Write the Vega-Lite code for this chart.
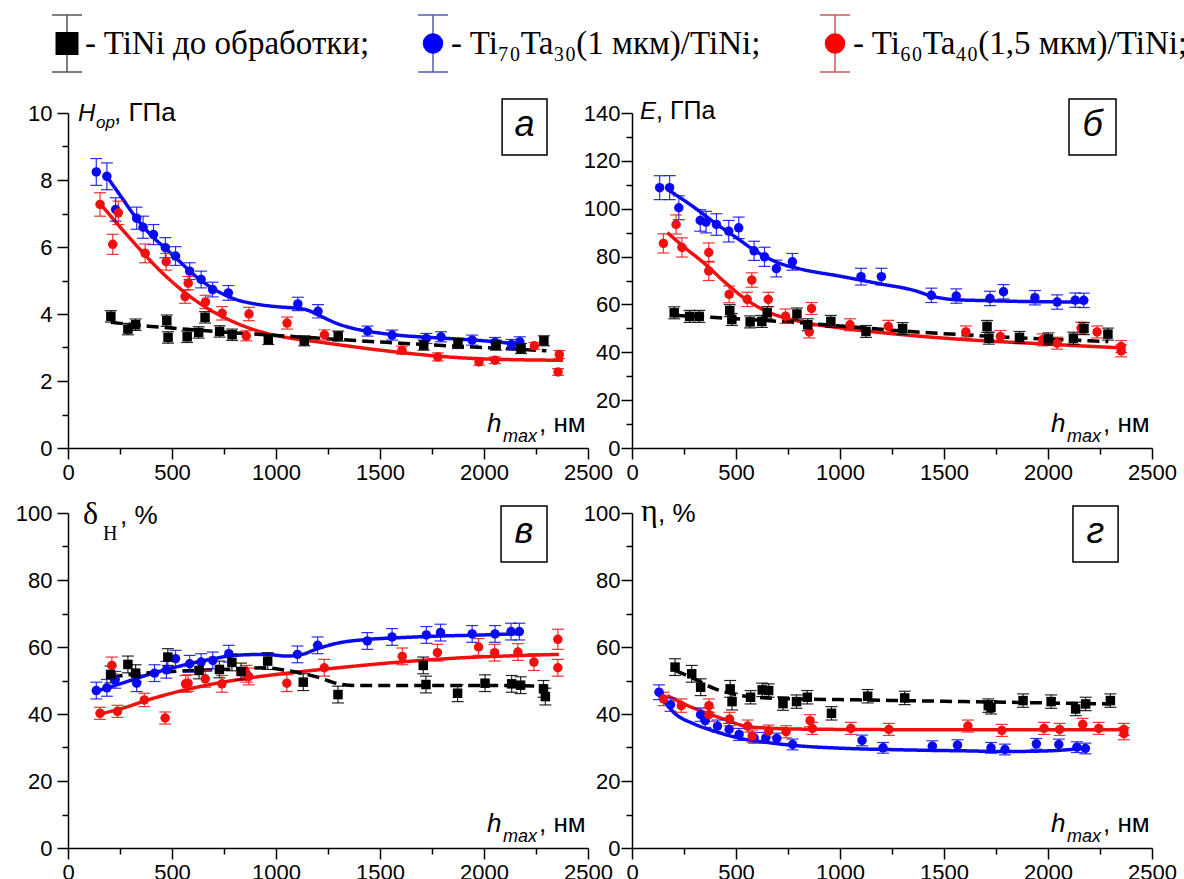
{
"$schema":"https://vega.github.io/schema/vega-lite/v6.json",
"autosize":{"type":"pad"},
"padding":{"left":15,"top":12,"right":0,"bottom":0},
"background":"white",
"datasets":{
"pts":[
{"p":"a","s":"b","x":136,"y":8.24,"e":0.4},{"p":"a","s":"b","x":187,"y":8.11,"e":0.4},{"p":"a","s":"b","x":229,"y":7.12,"e":0.35},{"p":"a","s":"b","x":330,"y":6.86,"e":0.33},{"p":"a","s":"b","x":361,"y":6.59,"e":0.33},{"p":"a","s":"b","x":411,"y":6.37,"e":0.3},{"p":"a","s":"b","x":468,"y":5.98,"e":0.3},{"p":"a","s":"b","x":517,"y":5.73,"e":0.28},{"p":"a","s":"b","x":585,"y":5.28,"e":0.25},{"p":"a","s":"b","x":640,"y":5.03,"e":0.25},{"p":"a","s":"b","x":695,"y":4.73,"e":0.22},{"p":"a","s":"b","x":771,"y":4.63,"e":0.22},{"p":"a","s":"b","x":1105,"y":4.3,"e":0.2},{"p":"a","s":"b","x":1202,"y":4.08,"e":0.2},{"p":"a","s":"b","x":1440,"y":3.49,"e":0.15},{"p":"a","s":"b","x":1558,"y":3.37,"e":0.15},{"p":"a","s":"b","x":1723,"y":3.27,"e":0.15},{"p":"a","s":"b","x":1793,"y":3.32,"e":0.15},{"p":"a","s":"b","x":1943,"y":3.22,"e":0.15},{"p":"a","s":"b","x":2053,"y":3.15,"e":0.15},{"p":"a","s":"b","x":2132,"y":3.09,"e":0.15},{"p":"a","s":"b","x":2172,"y":3.17,"e":0.15},
{"p":"a","s":"r","x":154,"y":7.27,"e":0.35},{"p":"a","s":"r","x":215,"y":6.08,"e":0.3},{"p":"a","s":"r","x":242,"y":7.02,"e":0.35},{"p":"a","s":"r","x":371,"y":5.81,"e":0.28},{"p":"a","s":"r","x":472,"y":5.56,"e":0.25},{"p":"a","s":"r","x":563,"y":4.52,"e":0.2},{"p":"a","s":"r","x":578,"y":4.92,"e":0.2},{"p":"a","s":"r","x":661,"y":4.36,"e":0.2},{"p":"a","s":"r","x":741,"y":4.02,"e":0.2},{"p":"a","s":"r","x":870,"y":4.0,"e":0.2},{"p":"a","s":"r","x":857,"y":3.35,"e":0.15},{"p":"a","s":"r","x":1053,"y":3.73,"e":0.18},{"p":"a","s":"r","x":1233,"y":3.38,"e":0.15},{"p":"a","s":"r","x":1606,"y":2.92,"e":0.12},{"p":"a","s":"r","x":1778,"y":2.72,"e":0.12},{"p":"a","s":"r","x":1976,"y":2.57,"e":0.1},{"p":"a","s":"r","x":2053,"y":2.62,"e":0.1},{"p":"a","s":"r","x":2242,"y":3.05,"e":0.1},{"p":"a","s":"r","x":2362,"y":2.79,"e":0.12},{"p":"a","s":"r","x":2356,"y":2.27,"e":0.1},
{"p":"a","s":"k","x":206,"y":3.93,"e":0.17},{"p":"a","s":"k","x":288,"y":3.55,"e":0.17},{"p":"a","s":"k","x":325,"y":3.68,"e":0.17},{"p":"a","s":"k","x":475,"y":3.8,"e":0.17},{"p":"a","s":"k","x":481,"y":3.3,"e":0.17},{"p":"a","s":"k","x":573,"y":3.32,"e":0.17},{"p":"a","s":"k","x":628,"y":3.45,"e":0.17},{"p":"a","s":"k","x":659,"y":3.9,"e":0.17},{"p":"a","s":"k","x":729,"y":3.48,"e":0.17},{"p":"a","s":"k","x":789,"y":3.38,"e":0.17},{"p":"a","s":"k","x":963,"y":3.24,"e":0.15},{"p":"a","s":"k","x":1136,"y":3.2,"e":0.15},{"p":"a","s":"k","x":1299,"y":3.34,"e":0.15},{"p":"a","s":"k","x":1710,"y":3.07,"e":0.15},{"p":"a","s":"k","x":1875,"y":3.12,"e":0.15},{"p":"a","s":"k","x":2058,"y":3.07,"e":0.15},{"p":"a","s":"k","x":2178,"y":2.97,"e":0.15},{"p":"a","s":"k","x":2288,"y":3.2,"e":0.15},
{"p":"b","s":"b","x":133,"y":108.8,"e":5},{"p":"b","s":"b","x":181,"y":108.8,"e":5},{"p":"b","s":"b","x":225,"y":100.4,"e":5},{"p":"b","s":"b","x":328,"y":95.1,"e":4.5},{"p":"b","s":"b","x":356,"y":94.4,"e":4.5},{"p":"b","s":"b","x":406,"y":93.4,"e":4.5},{"p":"b","s":"b","x":465,"y":90.6,"e":4.5},{"p":"b","s":"b","x":513,"y":92,"e":4.5},{"p":"b","s":"b","x":587,"y":82.4,"e":4},{"p":"b","s":"b","x":637,"y":79.9,"e":4},{"p":"b","s":"b","x":694,"y":75,"e":3.5},{"p":"b","s":"b","x":771,"y":77.8,"e":3.5},{"p":"b","s":"b","x":1101,"y":71.6,"e":3.5},{"p":"b","s":"b","x":1199,"y":71.6,"e":3.5},{"p":"b","s":"b","x":1439,"y":63.8,"e":3},{"p":"b","s":"b","x":1559,"y":63.5,"e":3},{"p":"b","s":"b","x":1721,"y":62.5,"e":3},{"p":"b","s":"b","x":1786,"y":65.3,"e":3},{"p":"b","s":"b","x":1937,"y":62.8,"e":3},{"p":"b","s":"b","x":2044,"y":61,"e":3},{"p":"b","s":"b","x":2131,"y":61.8,"e":3},{"p":"b","s":"b","x":2172,"y":61.7,"e":3},
{"p":"b","s":"r","x":151,"y":85.5,"e":4},{"p":"b","s":"r","x":212,"y":93.4,"e":4},{"p":"b","s":"r","x":240,"y":83.8,"e":4},{"p":"b","s":"r","x":369,"y":81.7,"e":4},{"p":"b","s":"r","x":369,"y":74,"e":4},{"p":"b","s":"r","x":467,"y":64.2,"e":3.5},{"p":"b","s":"r","x":554,"y":62.1,"e":3},{"p":"b","s":"r","x":576,"y":70.2,"e":3},{"p":"b","s":"r","x":655,"y":62.1,"e":3},{"p":"b","s":"r","x":738,"y":55.1,"e":3},{"p":"b","s":"r","x":863,"y":58.3,"e":2.5},{"p":"b","s":"r","x":852,"y":48.5,"e":2.5},{"p":"b","s":"r","x":1048,"y":51.5,"e":2.5},{"p":"b","s":"r","x":1232,"y":50.8,"e":2.5},{"p":"b","s":"r","x":1605,"y":48.5,"e":2.5},{"p":"b","s":"r","x":1771,"y":46.6,"e":2.5},{"p":"b","s":"r","x":1974,"y":45.2,"e":2.5},{"p":"b","s":"r","x":2044,"y":43.8,"e":2.5},{"p":"b","s":"r","x":2159,"y":50.1,"e":2.5},{"p":"b","s":"r","x":2236,"y":48.5,"e":2.5},{"p":"b","s":"r","x":2352,"y":42.4,"e":2.5},{"p":"b","s":"r","x":2352,"y":40.6,"e":2.5},
{"p":"b","s":"k","x":203,"y":56.5,"e":2.5},{"p":"b","s":"k","x":277,"y":55,"e":2.5},{"p":"b","s":"k","x":323,"y":55,"e":2.5},{"p":"b","s":"k","x":470,"y":57.4,"e":2.5},{"p":"b","s":"k","x":480,"y":53.7,"e":2.5},{"p":"b","s":"k","x":568,"y":52.7,"e":2.5},{"p":"b","s":"k","x":624,"y":52.9,"e":2.5},{"p":"b","s":"k","x":650,"y":56.5,"e":2.5},{"p":"b","s":"k","x":793,"y":56,"e":2.5},{"p":"b","s":"k","x":845,"y":51.5,"e":2.5},{"p":"b","s":"k","x":956,"y":52.9,"e":2.5},{"p":"b","s":"k","x":1125,"y":48.7,"e":2.5},{"p":"b","s":"k","x":1301,"y":49.9,"e":2.5},{"p":"b","s":"k","x":1707,"y":50.8,"e":2.5},{"p":"b","s":"k","x":1716,"y":45.9,"e":2.5},{"p":"b","s":"k","x":1863,"y":46.2,"e":2.5},{"p":"b","s":"k","x":2002,"y":45.6,"e":2.5},{"p":"b","s":"k","x":2122,"y":45.9,"e":2.5},{"p":"b","s":"k","x":2173,"y":49.9,"e":2.5},{"p":"b","s":"k","x":2288,"y":47.6,"e":2.5},
{"p":"c","s":"b","x":136,"y":47,"e":2.5},{"p":"c","s":"b","x":187,"y":47.8,"e":2.5},{"p":"c","s":"b","x":227,"y":50.2,"e":2.5},{"p":"c","s":"b","x":330,"y":49.2,"e":2.5},{"p":"c","s":"b","x":416,"y":52.2,"e":2.5},{"p":"c","s":"b","x":473,"y":53.2,"e":2.5},{"p":"c","s":"b","x":517,"y":56.5,"e":2.5},{"p":"c","s":"b","x":585,"y":55,"e":2.5},{"p":"c","s":"b","x":640,"y":55.5,"e":2.5},{"p":"c","s":"b","x":696,"y":56,"e":2.5},{"p":"c","s":"b","x":773,"y":58,"e":2.5},{"p":"c","s":"b","x":1103,"y":57.8,"e":2.5},{"p":"c","s":"b","x":1200,"y":60.5,"e":2.5},{"p":"c","s":"b","x":1439,"y":61.8,"e":2.5},{"p":"c","s":"b","x":1558,"y":63,"e":2.5},{"p":"c","s":"b","x":1723,"y":63.6,"e":2.5},{"p":"c","s":"b","x":1791,"y":64.3,"e":2.5},{"p":"c","s":"b","x":1943,"y":63.9,"e":2.5},{"p":"c","s":"b","x":2053,"y":63.9,"e":2.5},{"p":"c","s":"b","x":2130,"y":64.6,"e":2.5},{"p":"c","s":"b","x":2170,"y":64.6,"e":2.5},
{"p":"c","s":"r","x":154,"y":40.2,"e":1.8},{"p":"c","s":"r","x":211,"y":54.5,"e":2.5},{"p":"c","s":"r","x":238,"y":40.8,"e":1.8},{"p":"c","s":"r","x":367,"y":44.2,"e":2},{"p":"c","s":"r","x":467,"y":38.8,"e":1.8},{"p":"c","s":"r","x":565,"y":49,"e":2.5},{"p":"c","s":"r","x":577,"y":49.2,"e":2.5},{"p":"c","s":"r","x":660,"y":50.5,"e":2.5},{"p":"c","s":"r","x":740,"y":49,"e":2.5},{"p":"c","s":"r","x":858,"y":52,"e":2.5},{"p":"c","s":"r","x":869,"y":51.2,"e":2.5},{"p":"c","s":"r","x":1052,"y":49.2,"e":2.5},{"p":"c","s":"r","x":1232,"y":53.8,"e":2.5},{"p":"c","s":"r","x":1607,"y":57.2,"e":2.5},{"p":"c","s":"r","x":1776,"y":58.3,"e":2.5},{"p":"c","s":"r","x":1974,"y":60,"e":2.5},{"p":"c","s":"r","x":2051,"y":58.3,"e":2.5},{"p":"c","s":"r","x":2163,"y":58.5,"e":2.5},{"p":"c","s":"r","x":2240,"y":55.5,"e":2.5},{"p":"c","s":"r","x":2355,"y":62.3,"e":3},{"p":"c","s":"r","x":2355,"y":53.8,"e":2.5},
{"p":"c","s":"k","x":205,"y":51.8,"e":2.5},{"p":"c","s":"k","x":288,"y":54.8,"e":2.5},{"p":"c","s":"k","x":325,"y":52.2,"e":2.5},{"p":"c","s":"k","x":480,"y":57,"e":2.5},{"p":"c","s":"k","x":630,"y":53,"e":2.5},{"p":"c","s":"k","x":728,"y":53.3,"e":2.5},{"p":"c","s":"k","x":788,"y":55.4,"e":2.5},{"p":"c","s":"k","x":832,"y":52.7,"e":2.5},{"p":"c","s":"k","x":960,"y":55.8,"e":2.5},{"p":"c","s":"k","x":1131,"y":49.5,"e":2.5},{"p":"c","s":"k","x":1298,"y":45.8,"e":2.5},{"p":"c","s":"k","x":1708,"y":54.5,"e":2.5},{"p":"c","s":"k","x":1721,"y":48.8,"e":2.5},{"p":"c","s":"k","x":1873,"y":46.2,"e":2.5},{"p":"c","s":"k","x":2005,"y":49.2,"e":2.5},{"p":"c","s":"k","x":2133,"y":49,"e":2.5},{"p":"c","s":"k","x":2176,"y":48.6,"e":2.5},{"p":"c","s":"k","x":2286,"y":47.5,"e":2.5},{"p":"c","s":"k","x":2295,"y":45.2,"e":2.5},
{"p":"d","s":"b","x":130,"y":46.5,"e":2.2},{"p":"d","s":"b","x":185,"y":42.8,"e":2},{"p":"d","s":"b","x":330,"y":39.8,"e":2},{"p":"d","s":"b","x":352,"y":38,"e":2},{"p":"d","s":"b","x":411,"y":36.4,"e":1.8},{"p":"d","s":"b","x":467,"y":35.4,"e":1.8},{"p":"d","s":"b","x":515,"y":33.9,"e":1.8},{"p":"d","s":"b","x":587,"y":32.9,"e":1.6},{"p":"d","s":"b","x":643,"y":32.9,"e":1.6},{"p":"d","s":"b","x":696,"y":32.7,"e":1.6},{"p":"d","s":"b","x":772,"y":30.9,"e":1.6},{"p":"d","s":"b","x":1106,"y":32.1,"e":1.6},{"p":"d","s":"b","x":1207,"y":29.9,"e":1.6},{"p":"d","s":"b","x":1444,"y":30.4,"e":1.6},{"p":"d","s":"b","x":1565,"y":30.7,"e":1.6},{"p":"d","s":"b","x":1726,"y":29.9,"e":1.6},{"p":"d","s":"b","x":1793,"y":29.4,"e":1.6},{"p":"d","s":"b","x":1944,"y":31.1,"e":1.6},{"p":"d","s":"b","x":2052,"y":30.9,"e":1.6},{"p":"d","s":"b","x":2139,"y":30.1,"e":1.6},{"p":"d","s":"b","x":2180,"y":29.7,"e":1.6},
{"p":"d","s":"r","x":152,"y":44.5,"e":2},{"p":"d","s":"r","x":237,"y":42.5,"e":2},{"p":"d","s":"r","x":370,"y":42.5,"e":2},{"p":"d","s":"r","x":370,"y":39.8,"e":2},{"p":"d","s":"r","x":469,"y":38.5,"e":2},{"p":"d","s":"r","x":556,"y":36.4,"e":1.8},{"p":"d","s":"r","x":578,"y":33.4,"e":1.8},{"p":"d","s":"r","x":657,"y":34.9,"e":1.8},{"p":"d","s":"r","x":741,"y":34.7,"e":1.8},{"p":"d","s":"r","x":856,"y":38,"e":1.8},{"p":"d","s":"r","x":867,"y":35.7,"e":1.8},{"p":"d","s":"r","x":1052,"y":35.7,"e":1.8},{"p":"d","s":"r","x":1235,"y":35.4,"e":1.8},{"p":"d","s":"r","x":1615,"y":36.4,"e":1.8},{"p":"d","s":"r","x":1778,"y":35.1,"e":1.8},{"p":"d","s":"r","x":1981,"y":35.7,"e":1.8},{"p":"d","s":"r","x":2056,"y":35.4,"e":1.8},{"p":"d","s":"r","x":2167,"y":36.9,"e":1.8},{"p":"d","s":"r","x":2244,"y":35.7,"e":1.8},{"p":"d","s":"r","x":2365,"y":35.4,"e":1.8},{"p":"d","s":"r","x":2365,"y":34.1,"e":1.8},
{"p":"d","s":"k","x":207,"y":54,"e":2.5},{"p":"d","s":"k","x":287,"y":52,"e":2.5},{"p":"d","s":"k","x":330,"y":48,"e":2.5},{"p":"d","s":"k","x":472,"y":47.5,"e":2.5},{"p":"d","s":"k","x":481,"y":43.7,"e":2.5},{"p":"d","s":"k","x":570,"y":45,"e":2},{"p":"d","s":"k","x":626,"y":47.2,"e":2},{"p":"d","s":"k","x":657,"y":47,"e":2},{"p":"d","s":"k","x":726,"y":43.1,"e":2},{"p":"d","s":"k","x":791,"y":43.7,"e":2},{"p":"d","s":"k","x":843,"y":45,"e":2},{"p":"d","s":"k","x":959,"y":40.2,"e":2},{"p":"d","s":"k","x":1133,"y":45.3,"e":2},{"p":"d","s":"k","x":1311,"y":44.8,"e":2},{"p":"d","s":"k","x":1713,"y":42.5,"e":2},{"p":"d","s":"k","x":1726,"y":42,"e":2},{"p":"d","s":"k","x":1880,"y":44,"e":2},{"p":"d","s":"k","x":2015,"y":43.7,"e":2},{"p":"d","s":"k","x":2133,"y":41.5,"e":2},{"p":"d","s":"k","x":2181,"y":43,"e":2},{"p":"d","s":"k","x":2300,"y":44,"e":2}
],
"lines":[
{"p":"a","s":"b","x":187,"y":8.1},{"p":"a","s":"b","x":250,"y":7.55},{"p":"a","s":"b","x":330,"y":6.85},{"p":"a","s":"b","x":400,"y":6.35},{"p":"a","s":"b","x":470,"y":5.95},{"p":"a","s":"b","x":540,"y":5.55},{"p":"a","s":"b","x":600,"y":5.2},{"p":"a","s":"b","x":700,"y":4.75},{"p":"a","s":"b","x":800,"y":4.45},{"p":"a","s":"b","x":900,"y":4.3},{"p":"a","s":"b","x":1000,"y":4.22},{"p":"a","s":"b","x":1100,"y":4.17},{"p":"a","s":"b","x":1150,"y":4.12},{"p":"a","s":"b","x":1200,"y":3.98},{"p":"a","s":"b","x":1300,"y":3.7},{"p":"a","s":"b","x":1400,"y":3.53},{"p":"a","s":"b","x":1500,"y":3.43},{"p":"a","s":"b","x":1600,"y":3.36},{"p":"a","s":"b","x":1800,"y":3.28},{"p":"a","s":"b","x":2000,"y":3.2},{"p":"a","s":"b","x":2170,"y":3.1},
{"p":"a","s":"r","x":154,"y":7.3},{"p":"a","s":"r","x":250,"y":6.6},{"p":"a","s":"r","x":350,"y":5.9},{"p":"a","s":"r","x":450,"y":5.25},{"p":"a","s":"r","x":550,"y":4.7},{"p":"a","s":"r","x":650,"y":4.25},{"p":"a","s":"r","x":750,"y":3.9},{"p":"a","s":"r","x":900,"y":3.52},{"p":"a","s":"r","x":1050,"y":3.3},{"p":"a","s":"r","x":1200,"y":3.17},{"p":"a","s":"r","x":1400,"y":3.0},{"p":"a","s":"r","x":1600,"y":2.85},{"p":"a","s":"r","x":1800,"y":2.73},{"p":"a","s":"r","x":2000,"y":2.66},{"p":"a","s":"r","x":2200,"y":2.63},{"p":"a","s":"r","x":2380,"y":2.62},
{"p":"a","s":"k","x":206,"y":3.75},{"p":"a","s":"k","x":400,"y":3.63},{"p":"a","s":"k","x":600,"y":3.53},{"p":"a","s":"k","x":800,"y":3.44},{"p":"a","s":"k","x":1000,"y":3.36},{"p":"a","s":"k","x":1200,"y":3.28},{"p":"a","s":"k","x":1400,"y":3.2},{"p":"a","s":"k","x":1600,"y":3.13},{"p":"a","s":"k","x":1800,"y":3.06},{"p":"a","s":"k","x":2000,"y":3.0},{"p":"a","s":"k","x":2300,"y":2.9},
{"p":"b","s":"b","x":181,"y":107.5},{"p":"b","s":"b","x":300,"y":100.5},{"p":"b","s":"b","x":400,"y":94},{"p":"b","s":"b","x":500,"y":88},{"p":"b","s":"b","x":600,"y":82},{"p":"b","s":"b","x":700,"y":77.5},{"p":"b","s":"b","x":800,"y":75},{"p":"b","s":"b","x":1000,"y":71.8},{"p":"b","s":"b","x":1200,"y":68.5},{"p":"b","s":"b","x":1350,"y":66},{"p":"b","s":"b","x":1450,"y":63.3},{"p":"b","s":"b","x":1550,"y":62},{"p":"b","s":"b","x":1700,"y":61.6},{"p":"b","s":"b","x":1900,"y":61.2},{"p":"b","s":"b","x":2172,"y":61},
{"p":"b","s":"r","x":170,"y":90},{"p":"b","s":"r","x":250,"y":84},{"p":"b","s":"r","x":350,"y":77},{"p":"b","s":"r","x":450,"y":69},{"p":"b","s":"r","x":550,"y":62},{"p":"b","s":"r","x":650,"y":57},{"p":"b","s":"r","x":800,"y":53},{"p":"b","s":"r","x":1000,"y":50.2},{"p":"b","s":"r","x":1200,"y":48.2},{"p":"b","s":"r","x":1400,"y":46.6},{"p":"b","s":"r","x":1600,"y":45.3},{"p":"b","s":"r","x":1800,"y":44.3},{"p":"b","s":"r","x":2000,"y":43.4},{"p":"b","s":"r","x":2200,"y":42.5},{"p":"b","s":"r","x":2360,"y":41.8},
{"p":"b","s":"k","x":203,"y":55.5},{"p":"b","s":"k","x":400,"y":54.5},{"p":"b","s":"k","x":600,"y":53.5},{"p":"b","s":"k","x":800,"y":52.4},{"p":"b","s":"k","x":1000,"y":51},{"p":"b","s":"k","x":1200,"y":49.6},{"p":"b","s":"k","x":1400,"y":48.3},{"p":"b","s":"k","x":1600,"y":47.3},{"p":"b","s":"k","x":1800,"y":46.3},{"p":"b","s":"k","x":2000,"y":45.5},{"p":"b","s":"k","x":2200,"y":44.8},{"p":"b","s":"k","x":2290,"y":44.5},
{"p":"c","s":"b","x":136,"y":46.8},{"p":"c","s":"b","x":250,"y":49},{"p":"c","s":"b","x":400,"y":52},{"p":"c","s":"b","x":550,"y":54.5},{"p":"c","s":"b","x":700,"y":56.5},{"p":"c","s":"b","x":800,"y":57.5},{"p":"c","s":"b","x":950,"y":57.8},{"p":"c","s":"b","x":1050,"y":57.3},{"p":"c","s":"b","x":1120,"y":57.7},{"p":"c","s":"b","x":1200,"y":59.5},{"p":"c","s":"b","x":1300,"y":61.2},{"p":"c","s":"b","x":1450,"y":62.3},{"p":"c","s":"b","x":1600,"y":62.8},{"p":"c","s":"b","x":1800,"y":63.3},{"p":"c","s":"b","x":2000,"y":63.6},{"p":"c","s":"b","x":2170,"y":64},
{"p":"c","s":"r","x":154,"y":40},{"p":"c","s":"r","x":250,"y":41.5},{"p":"c","s":"r","x":400,"y":44.5},{"p":"c","s":"r","x":550,"y":47},{"p":"c","s":"r","x":700,"y":49},{"p":"c","s":"r","x":900,"y":51},{"p":"c","s":"r","x":1100,"y":52.5},{"p":"c","s":"r","x":1300,"y":53.8},{"p":"c","s":"r","x":1500,"y":55},{"p":"c","s":"r","x":1700,"y":56},{"p":"c","s":"r","x":1900,"y":56.8},{"p":"c","s":"r","x":2100,"y":57.3},{"p":"c","s":"r","x":2360,"y":57.8},
{"p":"c","s":"k","x":205,"y":51},{"p":"c","s":"k","x":300,"y":51.8},{"p":"c","s":"k","x":450,"y":52.5},{"p":"c","s":"k","x":600,"y":53},{"p":"c","s":"k","x":800,"y":53.4},{"p":"c","s":"k","x":950,"y":53.8},{"p":"c","s":"k","x":1050,"y":53},{"p":"c","s":"k","x":1200,"y":51},{"p":"c","s":"k","x":1300,"y":49},{"p":"c","s":"k","x":1380,"y":48.5},{"p":"c","s":"k","x":1600,"y":48.5},{"p":"c","s":"k","x":2000,"y":48.5},{"p":"c","s":"k","x":2300,"y":48.3},
{"p":"d","s":"b","x":130,"y":46},{"p":"d","s":"b","x":200,"y":40.5},{"p":"d","s":"b","x":300,"y":37},{"p":"d","s":"b","x":400,"y":34.8},{"p":"d","s":"b","x":500,"y":33},{"p":"d","s":"b","x":650,"y":31.5},{"p":"d","s":"b","x":800,"y":30.5},{"p":"d","s":"b","x":1000,"y":29.8},{"p":"d","s":"b","x":1300,"y":29.3},{"p":"d","s":"b","x":1600,"y":29},{"p":"d","s":"b","x":1800,"y":28.8},{"p":"d","s":"b","x":2000,"y":29},{"p":"d","s":"b","x":2180,"y":29.8},
{"p":"d","s":"r","x":170,"y":45.5},{"p":"d","s":"r","x":250,"y":43},{"p":"d","s":"r","x":350,"y":40.5},{"p":"d","s":"r","x":450,"y":38.3},{"p":"d","s":"r","x":550,"y":36.3},{"p":"d","s":"r","x":650,"y":35.8},{"p":"d","s":"r","x":800,"y":35.5},{"p":"d","s":"r","x":1000,"y":35.4},{"p":"d","s":"r","x":1500,"y":35.3},{"p":"d","s":"r","x":2000,"y":35.3},{"p":"d","s":"r","x":2365,"y":35.3},
{"p":"d","s":"k","x":207,"y":53},{"p":"d","s":"k","x":300,"y":50.5},{"p":"d","s":"k","x":400,"y":47.5},{"p":"d","s":"k","x":500,"y":45.8},{"p":"d","s":"k","x":600,"y":45},{"p":"d","s":"k","x":800,"y":44.5},{"p":"d","s":"k","x":1000,"y":44.3},{"p":"d","s":"k","x":1500,"y":43.8},{"p":"d","s":"k","x":2000,"y":43.3},{"p":"d","s":"k","x":2300,"y":43}
],
"legend":[
{"i":0,"s":"k","label":"- TiNi до обработки;"},
{"i":1,"s":"b","label":"- Ti₇₀Ta₃₀(1 мкм)/TiNi;"},
{"i":2,"s":"r","label":"- Ti₆₀Ta₄₀(1,5 мкм)/TiNi;"}
]
},
"columns":2,
"spacing":{"row":65,"column":44},
"bounds":"flush",
"concat":[
{"width":520,"height":335,
"layer":[
{"layer":[
{"data":{"name":"lines"},"transform":[{"filter":"datum.p==='a'"}],"mark":{"type":"line","strokeWidth":3.5,"interpolate":"monotone"},
"encoding":{"x":{"field":"x","type":"quantitative","title":null,"scale":{"domain":[0,2500],"nice":false},"axis":{"orient":"bottom","values":[0,500,1000,1500,2000,2500],"format":"d","tickSize":11,"labelPadding":3}},
"y":{"field":"y","type":"quantitative","title":null,"scale":{"domain":[0,10],"nice":false},"axis":{"orient":"left","values":[0,2,4,6,8,10],"tickSize":11,"labelPadding":5}},
"color":{"field":"s","type":"nominal","scale":{"domain":["k","b","r"],"range":["#000000","#0a0af0","#f01010"]},"legend":null},
"strokeDash":{"field":"s","type":"nominal","scale":{"domain":["k","b","r"],"range":[[12,6],[1,0],[1,0]]},"legend":null}}},
{"data":{"name":"pts"},"transform":[{"filter":"datum.p==='a'"}],"mark":{"type":"errorbar","thickness":1.2,"opacity":0.85,"ticks":{"size":12,"thickness":1.2}},
"encoding":{"x":{"field":"x","type":"quantitative","axis":null},"y":{"field":"y","type":"quantitative","axis":null},"yError":{"field":"e"},"color":{"field":"s","type":"nominal","legend":null}}},
{"data":{"name":"pts"},"transform":[{"filter":"datum.p==='a'"}],"mark":{"type":"point","filled":true,"size":90,"opacity":1},
"encoding":{"x":{"field":"x","type":"quantitative","axis":null},"y":{"field":"y","type":"quantitative","axis":null},"color":{"field":"s","type":"nominal","legend":null},"shape":{"field":"s","type":"nominal","scale":{"domain":["k","b","r"],"range":["square","circle","circle"]},"legend":null}}},
{"data":{"values":[{}]},"mark":{"type":"text","text":"H","font":"Liberation Sans","fontStyle":"italic","fontSize":24,"align":"left","baseline":"alphabetic","dx":10,"dy":8},"encoding":{"x":{"datum":0,"axis":null},"y":{"datum":10,"axis":null}}},
{"data":{"values":[{}]},"mark":{"type":"text","text":"ор","font":"Liberation Sans","fontStyle":"italic","fontSize":17,"align":"left","baseline":"alphabetic","dx":28,"dy":15},"encoding":{"x":{"datum":0,"axis":null},"y":{"datum":10,"axis":null}}},
{"data":{"values":[{}]},"mark":{"type":"text","text":", ГПа","font":"Liberation Sans","fontSize":26,"align":"left","baseline":"alphabetic","dx":46,"dy":8},"encoding":{"x":{"datum":0,"axis":null},"y":{"datum":10,"axis":null}}},
{"data":{"values":[{}]},"mark":{"type":"text","text":"h","font":"Liberation Sans","fontStyle":"italic","fontSize":26,"align":"left","baseline":"alphabetic","dx":-101,"dy":-16},"encoding":{"x":{"datum":2500,"axis":null},"y":{"datum":0,"axis":null}}},
{"data":{"values":[{}]},"mark":{"type":"text","text":"max","font":"Liberation Sans","fontStyle":"italic","fontSize":18,"align":"left","baseline":"alphabetic","dx":-85,"dy":-6},"encoding":{"x":{"datum":2500,"axis":null},"y":{"datum":0,"axis":null}}},
{"data":{"values":[{}]},"mark":{"type":"text","text":", нм","font":"Liberation Sans","fontSize":26,"align":"left","baseline":"alphabetic","dx":-49,"dy":-16},"encoding":{"x":{"datum":2500,"axis":null},"y":{"datum":0,"axis":null}}},
{"data":{"values":[{}]},"mark":{"type":"rect","fill":"white","fillOpacity":0,"stroke":"#000000","strokeWidth":1.5},"encoding":{"x":{"datum":2087,"axis":null},"x2":{"datum":2303},"y":{"datum":10.42,"axis":null},"y2":{"datum":8.75}}},
{"data":{"values":[{}]},"mark":{"type":"text","text":"а","font":"Liberation Sans","fontStyle":"italic","fontSize":36,"align":"center","baseline":"middle","dy":-2},"encoding":{"x":{"datum":2195,"axis":null},"y":{"datum":9.58,"axis":null}}},
{"data":{"values":[{}]},"mark":{"type":"text","text":""},"encoding":{"x":{"datum":0,"axis":{"orient":"bottom","values":[250,750,1250,1750,2250],"tickSize":6,"labels":false,"domain":false}},"y":{"datum":0,"axis":{"orient":"left","values":[1,3,5,7,9],"tickSize":6,"labels":false,"domain":false}}}}
],"resolve":{"axis":{"x":"independent","y":"independent"}}},
{"data":{"name":"legend"},
"encoding":{"x":{"field":"i","type":"quantitative","scale":{"domain":[0,1,2],"range":[-1,365,767]},"axis":null}},
"layer":[
{"mark":{"type":"point","shape":"M-1,-1.9L1,-1.9M0,-1.9L0,1.9M-1,1.9L1,1.9","filled":false,"size":900,"strokeWidth":1.5,"opacity":1},"encoding":{"y":{"datum":0.5,"scale":{"domain":[0,1],"range":[-41,-98]},"axis":null},"stroke":{"field":"s","type":"nominal","scale":{"domain":["k","b","r"],"range":["#555555","#5a5ab4","#c85a5a"]},"legend":null}}},
{"transform":[{"filter":"datum.s==='k'"}],"mark":{"type":"point","shape":"square","filled":true,"size":529,"fill":"#000000","opacity":1,"strokeWidth":0},"encoding":{"y":{"datum":0.5,"axis":null}}},
{"transform":[{"filter":"datum.s!=='k'"}],"mark":{"type":"point","shape":"circle","filled":true,"size":420,"opacity":1,"strokeWidth":0},"encoding":{"y":{"datum":0.5,"axis":null},"fill":{"field":"s","type":"nominal","scale":{"domain":["b","r"],"range":["#0000ff","#ff0000"]},"legend":null}}},
{"mark":{"type":"text","align":"left","baseline":"middle","dx":18,"font":"Liberation Serif","fontSize":33,"color":"#000000"},"encoding":{"y":{"datum":0.5,"axis":null},"text":{"field":"label"}}}
]}
],
"resolve":{"scale":{"x":"independent","y":"independent"}}
},
{"width":520,"height":335,
"layer":[
{"data":{"name":"lines"},"transform":[{"filter":"datum.p==='b'"}],"mark":{"type":"line","strokeWidth":3.5,"interpolate":"monotone"},
"encoding":{"x":{"field":"x","type":"quantitative","title":null,"scale":{"domain":[0,2500],"nice":false},"axis":{"orient":"bottom","values":[0,500,1000,1500,2000,2500],"format":"d","tickSize":11,"labelPadding":3}},
"y":{"field":"y","type":"quantitative","title":null,"scale":{"domain":[0,140],"nice":false},"axis":{"orient":"left","values":[0,20,40,60,80,100,120,140],"tickSize":11,"labelPadding":1}},
"color":{"field":"s","type":"nominal","scale":{"domain":["k","b","r"],"range":["#000000","#0a0af0","#f01010"]},"legend":null},
"strokeDash":{"field":"s","type":"nominal","scale":{"domain":["k","b","r"],"range":[[12,6],[1,0],[1,0]]},"legend":null}}},
{"data":{"name":"pts"},"transform":[{"filter":"datum.p==='b'"}],"mark":{"type":"errorbar","thickness":1.2,"opacity":0.85,"ticks":{"size":12,"thickness":1.2}},
"encoding":{"x":{"field":"x","type":"quantitative","axis":null},"y":{"field":"y","type":"quantitative","axis":null},"yError":{"field":"e"},"color":{"field":"s","type":"nominal","legend":null}}},
{"data":{"name":"pts"},"transform":[{"filter":"datum.p==='b'"}],"mark":{"type":"point","filled":true,"size":90,"opacity":1},
"encoding":{"x":{"field":"x","type":"quantitative","axis":null},"y":{"field":"y","type":"quantitative","axis":null},"color":{"field":"s","type":"nominal","legend":null},"shape":{"field":"s","type":"nominal","scale":{"domain":["k","b","r"],"range":["square","circle","circle"]},"legend":null}}},
{"data":{"values":[{}]},"mark":{"type":"text","text":"E","font":"Liberation Sans","fontStyle":"italic","fontSize":24,"align":"left","baseline":"alphabetic","dx":8,"dy":6},"encoding":{"x":{"datum":0,"axis":null},"y":{"datum":140,"axis":null}}},
{"data":{"values":[{}]},"mark":{"type":"text","text":", ГПа","font":"Liberation Sans","fontSize":25,"align":"left","baseline":"alphabetic","dx":24,"dy":6},"encoding":{"x":{"datum":0,"axis":null},"y":{"datum":140,"axis":null}}},
{"data":{"values":[{}]},"mark":{"type":"text","text":"h","font":"Liberation Sans","fontStyle":"italic","fontSize":26,"align":"left","baseline":"alphabetic","dx":-101,"dy":-16},"encoding":{"x":{"datum":2500,"axis":null},"y":{"datum":0,"axis":null}}},
{"data":{"values":[{}]},"mark":{"type":"text","text":"max","font":"Liberation Sans","fontStyle":"italic","fontSize":18,"align":"left","baseline":"alphabetic","dx":-85,"dy":-6},"encoding":{"x":{"datum":2500,"axis":null},"y":{"datum":0,"axis":null}}},
{"data":{"values":[{}]},"mark":{"type":"text","text":", нм","font":"Liberation Sans","fontSize":26,"align":"left","baseline":"alphabetic","dx":-49,"dy":-16},"encoding":{"x":{"datum":2500,"axis":null},"y":{"datum":0,"axis":null}}},
{"data":{"values":[{}]},"mark":{"type":"rect","fill":"white","fillOpacity":0,"stroke":"#000000","strokeWidth":1.5},"encoding":{"x":{"datum":2101,"axis":null},"x2":{"datum":2327},"y":{"datum":145.8,"axis":null},"y2":{"datum":122.4}}},
{"data":{"values":[{}]},"mark":{"type":"text","text":"б","font":"Liberation Sans","fontStyle":"italic","fontSize":36,"align":"center","baseline":"middle","dy":-2},"encoding":{"x":{"datum":2214,"axis":null},"y":{"datum":134.1,"axis":null}}},
{"data":{"values":[{}]},"mark":{"type":"text","text":""},"encoding":{"x":{"datum":0,"axis":{"orient":"bottom","values":[250,750,1250,1750,2250],"tickSize":6,"labels":false,"domain":false}},"y":{"datum":0,"axis":{"orient":"left","values":[10,30,50,70,90,110,130],"tickSize":6,"labels":false,"domain":false}}}}
],"resolve":{"axis":{"x":"independent","y":"independent"}}},
{"width":520,"height":335,
"layer":[
{"data":{"name":"lines"},"transform":[{"filter":"datum.p==='c'"}],"mark":{"type":"line","strokeWidth":3.5,"interpolate":"monotone"},
"encoding":{"x":{"field":"x","type":"quantitative","title":null,"scale":{"domain":[0,2500],"nice":false},"axis":{"orient":"bottom","values":[0,500,1000,1500,2000,2500],"format":"d","tickSize":11,"labelPadding":3}},
"y":{"field":"y","type":"quantitative","title":null,"scale":{"domain":[0,100],"nice":false},"axis":{"orient":"left","values":[0,20,40,60,80,100],"tickSize":11,"labelPadding":5}},
"color":{"field":"s","type":"nominal","scale":{"domain":["k","b","r"],"range":["#000000","#0a0af0","#f01010"]},"legend":null},
"strokeDash":{"field":"s","type":"nominal","scale":{"domain":["k","b","r"],"range":[[12,6],[1,0],[1,0]]},"legend":null}}},
{"data":{"name":"pts"},"transform":[{"filter":"datum.p==='c'"}],"mark":{"type":"errorbar","thickness":1.2,"opacity":0.85,"ticks":{"size":12,"thickness":1.2}},
"encoding":{"x":{"field":"x","type":"quantitative","axis":null},"y":{"field":"y","type":"quantitative","axis":null},"yError":{"field":"e"},"color":{"field":"s","type":"nominal","legend":null}}},
{"data":{"name":"pts"},"transform":[{"filter":"datum.p==='c'"}],"mark":{"type":"point","filled":true,"size":90,"opacity":1},
"encoding":{"x":{"field":"x","type":"quantitative","axis":null},"y":{"field":"y","type":"quantitative","axis":null},"color":{"field":"s","type":"nominal","legend":null},"shape":{"field":"s","type":"nominal","scale":{"domain":["k","b","r"],"range":["square","circle","circle"]},"legend":null}}},
{"data":{"values":[{}]},"mark":{"type":"text","text":"δ","font":"Liberation Serif","fontSize":32,"align":"left","baseline":"alphabetic","dx":15,"dy":11},"encoding":{"x":{"datum":0,"axis":null},"y":{"datum":100,"axis":null}}},
{"data":{"values":[{}]},"mark":{"type":"text","text":"Н","font":"Liberation Serif","fontSize":20,"align":"left","baseline":"alphabetic","dx":35,"dy":27},"encoding":{"x":{"datum":0,"axis":null},"y":{"datum":100,"axis":null}}},
{"data":{"values":[{}]},"mark":{"type":"text","text":", %","font":"Liberation Sans","fontSize":26,"align":"left","baseline":"alphabetic","dx":52,"dy":11},"encoding":{"x":{"datum":0,"axis":null},"y":{"datum":100,"axis":null}}},
{"data":{"values":[{}]},"mark":{"type":"text","text":"h","font":"Liberation Sans","fontStyle":"italic","fontSize":26,"align":"left","baseline":"alphabetic","dx":-101,"dy":-16},"encoding":{"x":{"datum":2500,"axis":null},"y":{"datum":0,"axis":null}}},
{"data":{"values":[{}]},"mark":{"type":"text","text":"max","font":"Liberation Sans","fontStyle":"italic","fontSize":18,"align":"left","baseline":"alphabetic","dx":-85,"dy":-6},"encoding":{"x":{"datum":2500,"axis":null},"y":{"datum":0,"axis":null}}},
{"data":{"values":[{}]},"mark":{"type":"text","text":", нм","font":"Liberation Sans","fontSize":26,"align":"left","baseline":"alphabetic","dx":-49,"dy":-16},"encoding":{"x":{"datum":2500,"axis":null},"y":{"datum":0,"axis":null}}},
{"data":{"values":[{}]},"mark":{"type":"rect","fill":"white","fillOpacity":0,"stroke":"#000000","strokeWidth":1.5},"encoding":{"x":{"datum":2082,"axis":null},"x2":{"datum":2303},"y":{"datum":102.1,"axis":null},"y2":{"datum":85.4}}},
{"data":{"values":[{}]},"mark":{"type":"text","text":"в","font":"Liberation Sans","fontStyle":"italic","fontSize":36,"align":"center","baseline":"middle","dy":-2},"encoding":{"x":{"datum":2192,"axis":null},"y":{"datum":93.8,"axis":null}}},
{"data":{"values":[{}]},"mark":{"type":"text","text":""},"encoding":{"x":{"datum":0,"axis":{"orient":"bottom","values":[250,750,1250,1750,2250],"tickSize":6,"labels":false,"domain":false}},"y":{"datum":0,"axis":{"orient":"left","values":[10,30,50,70,90],"tickSize":6,"labels":false,"domain":false}}}}
],"resolve":{"axis":{"x":"independent","y":"independent"}}},
{"width":520,"height":335,
"layer":[
{"data":{"name":"lines"},"transform":[{"filter":"datum.p==='d'"}],"mark":{"type":"line","strokeWidth":3.5,"interpolate":"monotone"},
"encoding":{"x":{"field":"x","type":"quantitative","title":null,"scale":{"domain":[0,2500],"nice":false},"axis":{"orient":"bottom","values":[0,500,1000,1500,2000,2500],"format":"d","tickSize":11,"labelPadding":3}},
"y":{"field":"y","type":"quantitative","title":null,"scale":{"domain":[0,100],"nice":false},"axis":{"orient":"left","values":[0,20,40,60,80,100],"tickSize":11,"labelPadding":1}},
"color":{"field":"s","type":"nominal","scale":{"domain":["k","b","r"],"range":["#000000","#0a0af0","#f01010"]},"legend":null},
"strokeDash":{"field":"s","type":"nominal","scale":{"domain":["k","b","r"],"range":[[12,6],[1,0],[1,0]]},"legend":null}}},
{"data":{"name":"pts"},"transform":[{"filter":"datum.p==='d'"}],"mark":{"type":"errorbar","thickness":1.2,"opacity":0.85,"ticks":{"size":12,"thickness":1.2}},
"encoding":{"x":{"field":"x","type":"quantitative","axis":null},"y":{"field":"y","type":"quantitative","axis":null},"yError":{"field":"e"},"color":{"field":"s","type":"nominal","legend":null}}},
{"data":{"name":"pts"},"transform":[{"filter":"datum.p==='d'"}],"mark":{"type":"point","filled":true,"size":90,"opacity":1},
"encoding":{"x":{"field":"x","type":"quantitative","axis":null},"y":{"field":"y","type":"quantitative","axis":null},"color":{"field":"s","type":"nominal","legend":null},"shape":{"field":"s","type":"nominal","scale":{"domain":["k","b","r"],"range":["square","circle","circle"]},"legend":null}}},
{"data":{"values":[{}]},"mark":{"type":"text","text":"η","font":"Liberation Serif","fontSize":32,"align":"left","baseline":"alphabetic","dx":9,"dy":8},"encoding":{"x":{"datum":0,"axis":null},"y":{"datum":100,"axis":null}}},
{"data":{"values":[{}]},"mark":{"type":"text","text":", %","font":"Liberation Sans","fontSize":26,"align":"left","baseline":"alphabetic","dx":26,"dy":9},"encoding":{"x":{"datum":0,"axis":null},"y":{"datum":100,"axis":null}}},
{"data":{"values":[{}]},"mark":{"type":"text","text":"h","font":"Liberation Sans","fontStyle":"italic","fontSize":26,"align":"left","baseline":"alphabetic","dx":-101,"dy":-16},"encoding":{"x":{"datum":2500,"axis":null},"y":{"datum":0,"axis":null}}},
{"data":{"values":[{}]},"mark":{"type":"text","text":"max","font":"Liberation Sans","fontStyle":"italic","fontSize":18,"align":"left","baseline":"alphabetic","dx":-85,"dy":-6},"encoding":{"x":{"datum":2500,"axis":null},"y":{"datum":0,"axis":null}}},
{"data":{"values":[{}]},"mark":{"type":"text","text":", нм","font":"Liberation Sans","fontSize":26,"align":"left","baseline":"alphabetic","dx":-49,"dy":-16},"encoding":{"x":{"datum":2500,"axis":null},"y":{"datum":0,"axis":null}}},
{"data":{"values":[{}]},"mark":{"type":"rect","fill":"white","fillOpacity":0,"stroke":"#000000","strokeWidth":1.5},"encoding":{"x":{"datum":2120,"axis":null},"x2":{"datum":2337},"y":{"datum":102.1,"axis":null},"y2":{"datum":85.4}}},
{"data":{"values":[{}]},"mark":{"type":"text","text":"г","font":"Liberation Sans","fontStyle":"italic","fontSize":36,"align":"center","baseline":"middle","dy":-2},"encoding":{"x":{"datum":2228,"axis":null},"y":{"datum":93.8,"axis":null}}},
{"data":{"values":[{}]},"mark":{"type":"text","text":""},"encoding":{"x":{"datum":0,"axis":{"orient":"bottom","values":[250,750,1250,1750,2250],"tickSize":6,"labels":false,"domain":false}},"y":{"datum":0,"axis":{"orient":"left","values":[10,30,50,70,90],"tickSize":6,"labels":false,"domain":false}}}}
],"resolve":{"axis":{"x":"independent","y":"independent"}}}
],
"config":{
"view":{"stroke":null},
"axis":{"grid":false,"domainColor":"#000000","domainWidth":1.5,"tickColor":"#000000","tickWidth":1.5,"labelFont":"Liberation Sans","labelFontSize":22,"labelColor":"#000000","labelFlush":false,"labelOverlap":false,"titleFontSize":1}
}
}
